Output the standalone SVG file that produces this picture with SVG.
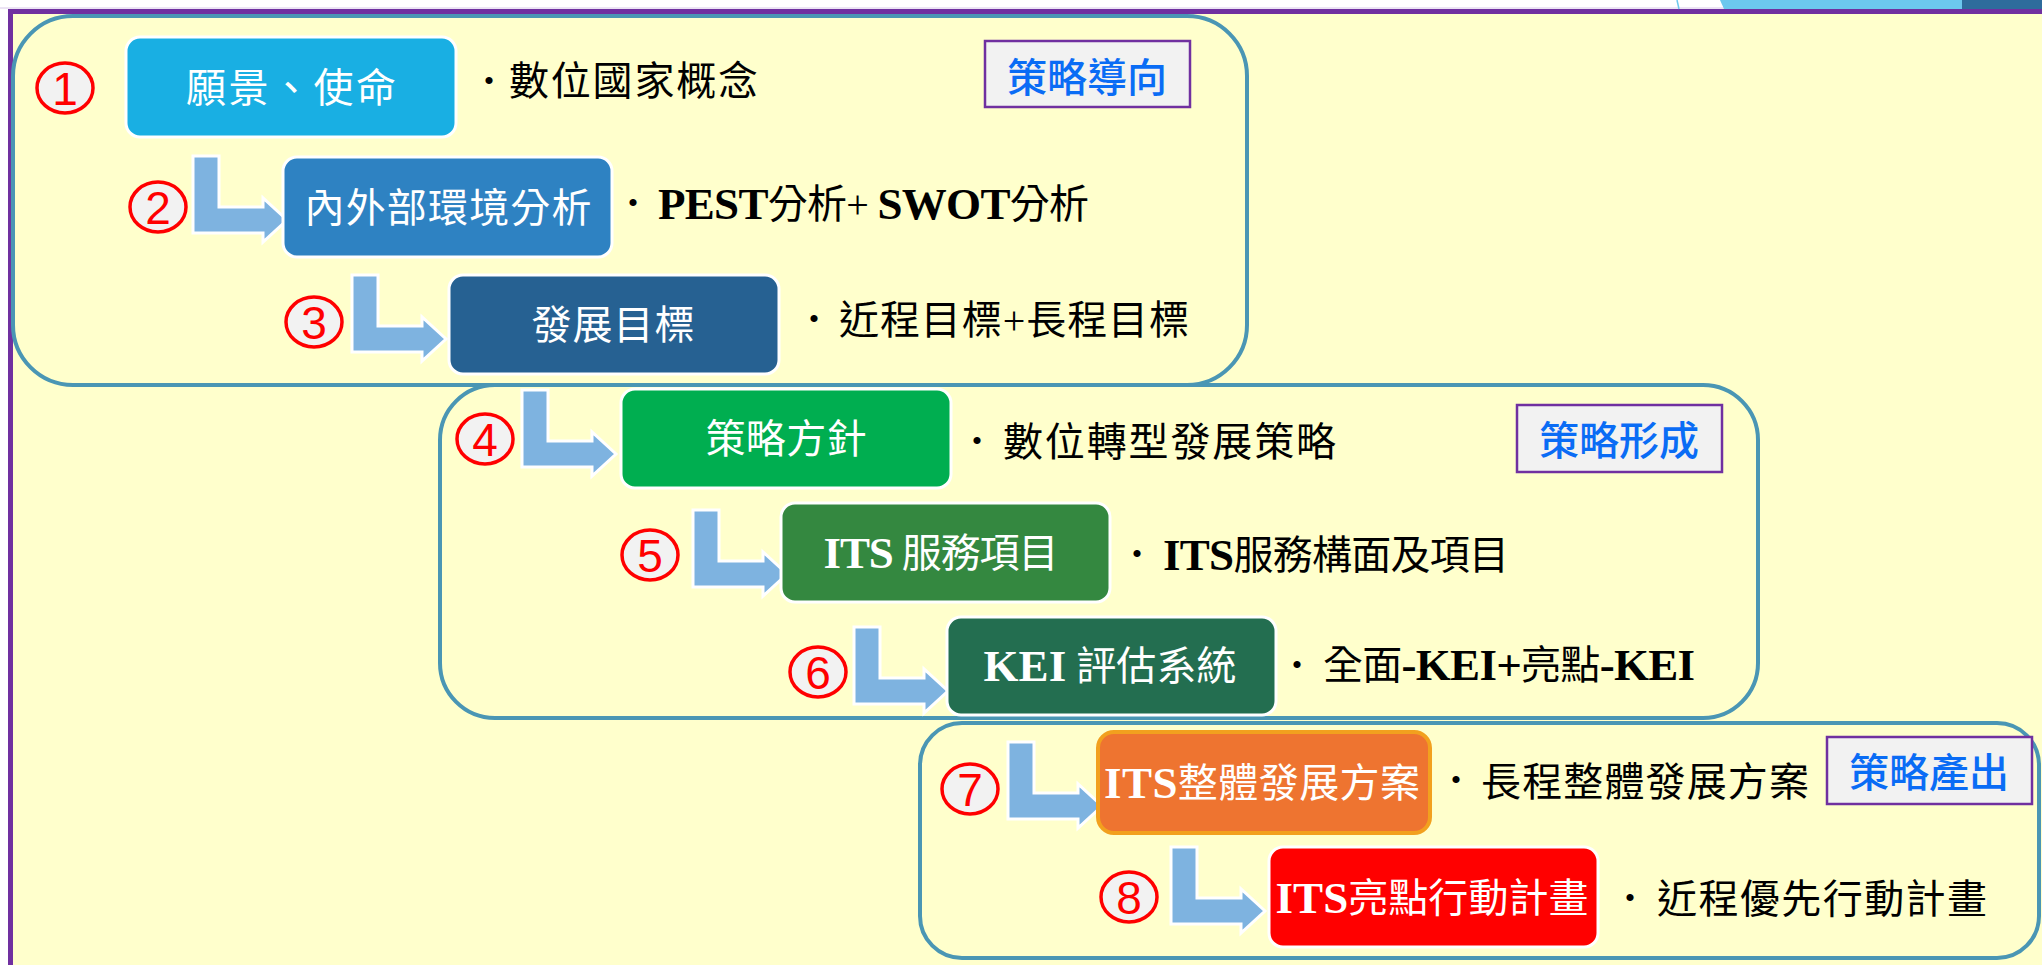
<svg xmlns="http://www.w3.org/2000/svg" width="2042" height="965" viewBox="0 0 2042 965">
<style>
.grp{fill:none;stroke:#4A96B4;stroke-width:4}
.node{stroke:#FFFFFF;stroke-width:3}
.ntxt{fill:#FFFFFF;font-family:"Liberation Serif","Noto Sans CJK TC",serif;font-size:40px;dominant-baseline:central;text-anchor:middle}
.lat{font-weight:bold;font-size:45px}
.desc{fill:#000000;font-family:"Liberation Serif","Noto Sans CJK TC",serif;font-size:40px;dominant-baseline:central}
.bul{fill:#000000;font-family:"Liberation Serif",serif;font-size:30px;dominant-baseline:central;text-anchor:middle}
.lbl{fill:#F2F2F2;stroke:#7030A0;stroke-width:2.5}
.ltxt{fill:#0A6CF5;font-family:"Noto Sans CJK TC",sans-serif;font-size:40px;font-weight:500;dominant-baseline:central;text-anchor:middle}
.num{fill:#F2F2F2;stroke:#FF0000;stroke-width:3.5}
.ntx{fill:#FF0000;font-family:"Liberation Sans Narrow","Liberation Sans",sans-serif;font-size:46px;dominant-baseline:central;text-anchor:middle}
.arr{fill:#7EB3E0;stroke:#FFFFFF;stroke-width:3}
</style>
<defs>
<path id="bent" d="M0,0 H26 V51 H70 V42 L94,64 L70,86 V77 H0 Z"/>
</defs>
<!-- background -->
<rect x="0" y="0" width="2042" height="965" fill="#FFFFFF"/>
<rect x="8" y="9" width="2034" height="956" fill="#FFFFCC"/>
<rect x="8" y="9" width="2034" height="5" fill="#7030A0"/>
<rect x="8" y="9" width="5" height="956" fill="#7030A0"/>
<line x1="0" y1="8" x2="2042" y2="8" stroke="#D8C8E8" stroke-width="1"/>
<line x1="1677" y1="0" x2="1679" y2="9" stroke="#6CC8EE" stroke-width="1.5"/>
<polygon points="1720,0 1962,0 1962,9 1724,9" fill="#6CC8EE"/>
<rect x="1962" y="0" width="80" height="9" fill="#2E6C9C"/>

<!-- group frames -->
<g id="group-orientation">
<rect class="grp" x="13" y="16" width="1234" height="369" rx="60" ry="60"/>
<rect class="lbl" x="985" y="41" width="205" height="66"/>
<text class="ltxt" x="1087" y="75">策略導向</text>
</g>
<g id="group-formation">
<rect class="grp" x="440" y="385" width="1318" height="333" rx="55" ry="55"/>
<rect class="lbl" x="1517" y="405" width="205" height="67"/>
<text class="ltxt" x="1619" y="438">策略形成</text>
</g>
<g id="group-output">
<rect class="grp" x="920" y="723" width="1119" height="235" rx="42" ry="42"/>
<rect class="lbl" x="1827" y="737" width="205" height="67"/>
<text class="ltxt" x="1929" y="770">策略產出</text>
</g>

<!-- connectors -->
<g id="connectors">
<use href="#bent" class="arr" x="193" y="156"/>
<use href="#bent" class="arr" x="352" y="275"/>
<use href="#bent" class="arr" x="522" y="390"/>
<use href="#bent" class="arr" x="693" y="510"/>
<use href="#bent" class="arr" x="854" y="627"/>
<use href="#bent" class="arr" x="1008" y="742"/>
<use href="#bent" class="arr" x="1171" y="847"/>
</g>

<!-- step 1 -->
<g id="step1">
<ellipse class="num" cx="65" cy="88" rx="28" ry="25"/>
<text class="ntx" x="65" y="89">1</text>
<rect class="node" x="126" y="37" width="330" height="100" rx="14" fill="#19AFE3"/>
<text class="ntxt" x="291" y="88" textLength="210" lengthAdjust="spacing">願景、使命</text>
<text class="bul" x="489" y="80">•</text>
<text class="desc" x="509" y="81" textLength="249" lengthAdjust="spacing">數位國家概念</text>
</g>
<!-- step 2 -->
<g id="step2">
<ellipse class="num" cx="158" cy="207" rx="28" ry="25"/>
<text class="ntx" x="158" y="208">2</text>
<rect class="node" x="283" y="157" width="329" height="100" rx="14" fill="#2E82C2"/>
<text class="ntxt" x="448" y="208" textLength="287" lengthAdjust="spacing">內外部環境分析</text>
<text class="bul" x="633" y="202">•</text>
<text class="desc" x="658" y="204" textLength="431" lengthAdjust="spacing"><tspan class="lat">PEST</tspan>分析+ <tspan class="lat">SWOT</tspan>分析</text>
</g>
<!-- step 3 -->
<g id="step3">
<ellipse class="num" cx="314" cy="322" rx="28" ry="25"/>
<text class="ntx" x="314" y="323">3</text>
<rect class="node" x="449" y="275" width="330" height="99" rx="14" fill="#266192"/>
<text class="ntxt" x="613" y="325" textLength="163" lengthAdjust="spacing">發展目標</text>
<text class="bul" x="814" y="318">•</text>
<text class="desc" x="839" y="320" textLength="350" lengthAdjust="spacing">近程目標+長程目標</text>
</g>
<!-- step 4 -->
<g id="step4">
<ellipse class="num" cx="485" cy="439" rx="28" ry="25"/>
<text class="ntx" x="485" y="440">4</text>
<rect class="node" x="621" y="389" width="330" height="99" rx="14" fill="#00AE50"/>
<text class="ntxt" x="786" y="439" textLength="161" lengthAdjust="spacing">策略方針</text>
<text class="bul" x="977" y="440">•</text>
<text class="desc" x="1003" y="442" textLength="333" lengthAdjust="spacing">數位轉型發展策略</text>
</g>
<!-- step 5 -->
<g id="step5">
<ellipse class="num" cx="650" cy="555" rx="28" ry="25"/>
<text class="ntx" x="650" y="556">5</text>
<rect class="node" x="781" y="503" width="329" height="99" rx="14" fill="#348840"/>
<text class="ntxt" x="941" y="553" textLength="235" lengthAdjust="spacing"><tspan class="lat">ITS</tspan> 服務項目</text>
<text class="bul" x="1137" y="553">•</text>
<text class="desc" x="1163" y="555" textLength="346" lengthAdjust="spacing"><tspan class="lat">ITS</tspan>服務構面及項目</text>
</g>
<!-- step 6 -->
<g id="step6">
<ellipse class="num" cx="818" cy="672" rx="28" ry="25"/>
<text class="ntx" x="818" y="673">6</text>
<rect class="node" x="947" y="617" width="329" height="98" rx="14" fill="#236E50"/>
<text class="ntxt" x="1110" y="666" textLength="253" lengthAdjust="spacing"><tspan class="lat">KEI</tspan> 評估系統</text>
<text class="bul" x="1297" y="664">•</text>
<text class="desc" x="1323" y="665" textLength="372" lengthAdjust="spacing">全面<tspan class="lat">-KEI+</tspan>亮點<tspan class="lat">-KEI</tspan></text>
</g>
<!-- step 7 -->
<g id="step7">
<ellipse class="num" cx="970" cy="789" rx="28" ry="25"/>
<text class="ntx" x="970" y="790">7</text>
<rect x="1098" y="732" width="332" height="101" rx="16" fill="#EE7430" stroke="#F2A01E" stroke-width="4"/>
<text class="ntxt" x="1262" y="783" textLength="316" lengthAdjust="spacing"><tspan class="lat">ITS</tspan>整體發展方案</text>
<text class="bul" x="1456" y="779">•</text>
<text class="desc" x="1481" y="782" textLength="328" lengthAdjust="spacing">長程整體發展方案</text>
</g>
<!-- step 8 -->
<g id="step8">
<ellipse class="num" cx="1129" cy="897" rx="28" ry="25"/>
<text class="ntx" x="1129" y="898">8</text>
<rect class="node" x="1269" y="847" width="329" height="100" rx="14" fill="#FF0000"/>
<text class="ntxt" x="1432" y="898" textLength="313" lengthAdjust="spacing"><tspan class="lat">ITS</tspan>亮點行動計畫</text>
<text class="bul" x="1630" y="897">•</text>
<text class="desc" x="1657" y="899" textLength="330" lengthAdjust="spacing">近程優先行動計畫</text>
</g>
</svg>
